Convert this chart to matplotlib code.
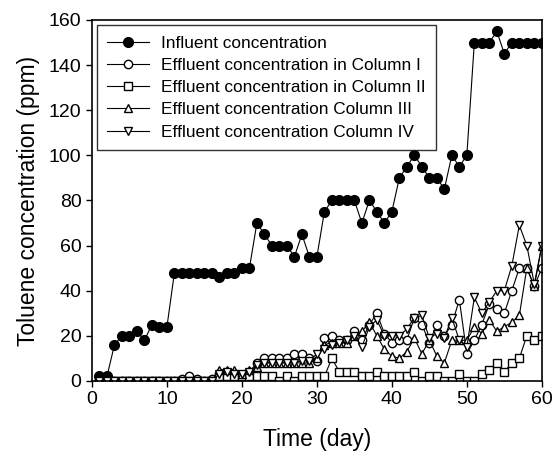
import matplotlib
matplotlib.use("Agg")
import matplotlib.pyplot as plt

plt.rcParams['font.family'] = ['Liberation Sans', 'DejaVu Sans']

# Time axis (days)
days = list(range(1, 61))

# Influent toluene concentration (ppm)
influent = [2, 2, 16, 20, 20, 22, 18, 25, 24, 24,
            48, 48, 48, 48, 48, 48, 46, 48, 48, 50,
            50, 70, 65, 60, 60, 60, 55, 65, 55, 55,
            75, 80, 80, 80, 80, 70, 80, 75, 70, 75,
            90, 95, 100, 95, 90, 90, 85, 100, 95, 100,
            150, 150, 150, 155, 145, 150, 150, 150, 150, 150]

# Effluent concentration in Column I
col1 = [0, 0, 0, 0, 0, 0, 0, 0, 0, 0,
        0, 1, 2, 1, 0, 1, 3, 4, 3, 2,
        4, 8, 10, 10, 10, 10, 12, 12, 10, 9,
        19, 20, 18, 18, 22, 18, 25, 30, 21, 17,
        18, 18, 28, 25, 17, 25, 20, 25, 36, 12,
        18, 25, 34, 32, 30, 40, 50, 50, 42, 50]

# Effluent concentration in Column II
col2 = [0, 0, 0, 0, 0, 0, 0, 0, 0, 0,
        0, 0, 0, 0, 0, 0, 2, 2, 2, 2,
        2, 2, 2, 2, 0, 2, 0, 2, 2, 2,
        2, 10, 4, 4, 4, 2, 2, 4, 2, 2,
        2, 2, 4, 0, 2, 2, 0, 0, 3, 0,
        0, 3, 5, 8, 4, 8, 10, 20, 18, 20]

# Effluent concentration Column III
col3 = [0, 0, 0, 0, 0, 0, 0, 0, 0, 0,
        0, 0, 0, 0, 0, 0, 5, 5, 5, 3,
        5, 6, 8, 8, 8, 8, 8, 8, 8, 10,
        16, 17, 17, 17, 20, 22, 26, 20, 14, 11,
        10, 13, 19, 12, 18, 11, 8, 18, 18, 18,
        24, 21, 27, 22, 24, 26, 29, 50, 42, 60]

# Effluent concentration Column IV
col4 = [0, 0, 0, 0, 0, 0, 0, 0, 0, 0,
        0, 0, 0, 0, 0, 0, 3, 4, 3, 3,
        4, 7, 8, 8, 8, 8, 8, 9, 9, 12,
        14, 16, 17, 18, 20, 15, 24, 27, 20, 20,
        20, 23, 28, 29, 19, 21, 19, 28, 18, 15,
        37, 30, 35, 40, 40, 51, 69, 60, 43, 60]

fig, ax = plt.subplots(figsize=(5.54, 4.54), dpi=100)
fig.subplots_adjust(left=0.166, right=0.978, bottom=0.161, top=0.956)

lw = 0.8
ax.plot(days, influent, color='black', marker='o', markersize=7, lw=lw,
        label='Influent concentration')
ax.plot(days, col1, color='black', marker='o', markersize=6, mfc='white', lw=lw,
        label='Effluent concentration in Column I')
ax.plot(days, col2, color='black', marker='s', markersize=5.5, mfc='white', lw=lw,
        label='Effluent concentration in Column II')
ax.plot(days, col3, color='black', marker='^', markersize=6, mfc='white', lw=lw,
        label='Effluent concentration Column III')
ax.plot(days, col4, color='black', marker='v', markersize=6, mfc='white', lw=lw,
        label='Effluent concentration Column IV')

ax.set_xlim(0, 60)
ax.set_ylim(0, 160)
ax.set_xticks(range(0, 61, 10))
ax.set_yticks(range(0, 161, 20))
ax.tick_params(labelsize=14, direction='out', length=4, width=1)
ax.set_xlabel('Time (day)', fontsize=16.5, labelpad=14)
ax.set_ylabel('Toluene concentration (ppm)', fontsize=16.5, labelpad=6)
for s in ax.spines.values():
    s.set_linewidth(1.2)

leg = ax.legend(loc='upper left', fontsize=12.4, frameon=True, fancybox=False,
                edgecolor='black', handlelength=2.4, labelspacing=0.42,
                borderaxespad=0.3, handletextpad=0.7, borderpad=0.6)
leg.get_frame().set_linewidth(1.0)

fig.savefig('out.png', dpi=100)
